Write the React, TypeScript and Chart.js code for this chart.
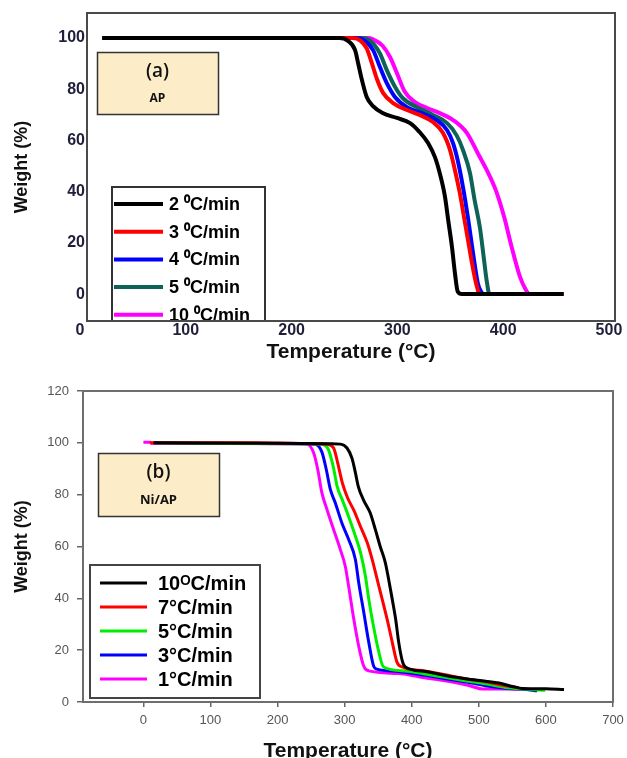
import React, { useEffect, useRef } from 'react';
import { Chart, registerables } from 'chart.js';

Chart.register(...registerables);
Chart.defaults.font.family = 'Arial, "Liberation Sans", Helvetica, sans-serif';

// ---------------- Panel (a): AP ----------------
const aLabels = ['2 ⁰C/min', '3 ⁰C/min', '4 ⁰C/min', '5 ⁰C/min', '10 ⁰C/min'];
const aColors = ['#000000', '#ff0000', '#0000ff', '#0d6358', '#ff00ff'];

const aT2 = [21, 245, 253, 260, 263, 266.5, 271, 277, 286, 299.6, 312, 321, 329, 335.5, 340, 345, 348, 351.6, 354.4, 357, 361, 457];
const aW2 = [100, 100, 99, 95.3, 90, 83.6, 77, 73.4, 70.7, 68.8, 66.8, 63.3, 59, 53.5, 47.3, 38, 29, 18.4, 8.2, 1, 0, 0];

const aT3 = [21, 258, 265, 271, 276, 281, 286.6, 296, 309, 321, 333.6, 343, 349.7, 354.4, 359, 363, 367, 371, 374.5, 378, 457];
const aW3 = [100, 100, 99, 96, 90, 83.6, 78.5, 74.6, 71.9, 70, 67.2, 63, 56.3, 48.4, 39.5, 30, 20.5, 11, 4, 0, 0];

const aT4 = [21, 262, 269, 277, 283.5, 290, 297.7, 309, 323, 337, 347, 352.6, 357, 362, 367, 371.5, 376, 379, 382, 457];
const aW4 = [100, 100, 99, 95.3, 88.7, 82.4, 77, 73, 70.7, 68, 64, 59, 52.3, 41.8, 29, 16, 4.3, 1, 0, 0];

const aT5 = [21, 266, 274, 283.5, 290, 297.7, 305, 318.5, 333.6, 347, 356, 362, 368.6, 373, 378, 382, 384.5, 387, 457];
const aW5 = [100, 100, 99, 94, 87.5, 81, 76.6, 73, 70, 66.8, 62, 56.3, 47.3, 36.7, 26, 13, 5, 0, 0];

const aT10 = [21, 272, 277, 286, 293, 299.6, 307, 316.6, 328, 340, 352.6, 365.8, 376, 385, 393, 401, 408, 416, 421, 425, 457];
const aW10 = [100, 100, 99.5, 97, 92.6, 86.3, 79, 75, 72.7, 70.7, 68, 62.9, 55, 48, 40.6, 30, 18.4, 6.6, 2, 0, 0];

const aXTicks = [0, 100, 200, 300, 400, 500];
const aYTicks = [0, 20, 40, 60, 80, 100];

// ---------------- Panel (b): Ni/AP ----------------
const bLabels = ['10ᴼC/min', '7°C/min', '5°C/min', '3°C/min', '1°C/min'];
const bColors = ['#000000', '#ff0000', '#00ee00', '#0000ff', '#ff00ff'];

const bT10 = [15, 200, 280, 293.6, 303.5, 311, 316, 320.5, 328, 338, 345.8, 353, 360.6, 365.6, 371, 376, 380.6, 386, 390.5, 420, 450, 480, 510, 530, 550, 565, 600, 627];
const bW10 = [100, 99.8, 99.6, 99.5, 98, 94, 88.5, 83, 78, 73, 66.5, 60, 53.8, 47.3, 39.6, 32, 23, 15.8, 13.5, 11.8, 10.2, 9, 8, 7.3, 6, 5.2, 5.1, 4.8];

const bT7 = [10, 170, 260, 273.7, 283.6, 289.6, 296.5, 304, 313.6, 323.6, 333.6, 341, 348.5, 356, 363.3, 371, 378, 386, 420, 450, 480, 510, 540, 560];
const bW7 = [100, 100, 99.6, 99.5, 98, 92.3, 84.6, 79, 74, 67.7, 61.5, 55, 47.3, 39.6, 32, 23, 15.4, 13.5, 12, 10.5, 9, 7.8, 6.3, 5.5];

const bT5 = [20, 250, 266, 276, 283, 289, 296.5, 306, 316, 323.6, 331, 336, 343, 351, 358, 390, 420, 450, 480, 510, 540, 570, 599];
const bW5 = [100, 99.6, 99.5, 97.3, 90.8, 83, 78, 71.5, 64, 57.7, 48.5, 39.6, 29.2, 19.2, 13.5, 12, 10.8, 9.5, 8.2, 7, 5.6, 5, 4.5];

const bT3 = [15, 240, 256, 266, 272.7, 278.7, 286, 296, 306, 316, 321, 328.5, 336, 343.3, 348, 380, 420, 450, 480, 510, 540, 565, 587];
const bW3 = [100, 99.6, 99.5, 96.5, 89.6, 82, 76.9, 69, 62.7, 55, 46, 34.6, 23, 13.8, 12.7, 11.8, 10.3, 9, 7.8, 6.3, 5.3, 5, 4.3];

const bT1 = [0, 10, 12, 230, 244, 254, 260, 266, 274, 283.6, 293.6, 301, 306, 313.6, 321, 328.5, 336, 380, 423, 442.6, 470, 490, 505, 540, 572];
const bW1 = [100.2, 100.2, 99.8, 99.6, 99.5, 96, 89.6, 80.8, 74, 66.5, 58.8, 52.3, 44.6, 32, 21.5, 13.8, 12, 11, 9.2, 8.5, 7.2, 6, 5, 5, 4.8];

const bXTicks = [0, 100, 200, 300, 400, 500, 600, 700];
const bYTicks = [0, 20, 40, 60, 80, 100, 120];

const toPts = (t: number[], w: number[]) => t.map((x, i) => ({ x, y: w[i] }));

const overlayPlugin = {
  id: 'overlay',
  afterDatasetsDraw(chart: any, _args: any, o: any) {
    const { ctx, chartArea: ca } = chart;
    ctx.save();
    // note box
    const n = o.note;
    const nx = ca.left + n.x, ny = ca.top + n.y;
    ctx.fillStyle = n.fill;
    ctx.fillRect(nx, ny, n.w, n.h);
    ctx.strokeStyle = n.stroke;
    ctx.lineWidth = n.lineWidth;
    ctx.strokeRect(nx + 0.5, ny + 0.5, n.w, n.h);
    ctx.fillStyle = '#111';
    ctx.textAlign = 'center';
    ctx.textBaseline = 'middle';
    ctx.font = n.titleFont;
    ctx.fillText(n.title, nx + n.w / 2, ca.top + n.titleY);
    ctx.font = n.subFont;
    ctx.fillText(n.sub, nx + n.w / 2, ca.top + n.subY);

    // legend box, clipped to the plot frame
    const L = o.legend;
    ctx.beginPath();
    ctx.rect(ca.left, ca.top, ca.right - ca.left, ca.bottom - ca.top);
    ctx.clip();
    const lx = ca.left + L.x, ly = ca.top + L.y;
    ctx.fillStyle = '#ffffff';
    ctx.fillRect(lx, ly, L.w, L.h);
    ctx.strokeStyle = L.stroke;
    ctx.lineWidth = L.lineWidth;
    ctx.strokeRect(lx, ly, L.w, L.h);
    ctx.textAlign = 'left';
    ctx.textBaseline = 'middle';
    ctx.font = L.font;
    chart.data.datasets.forEach((ds: any, i: number) => {
      const y = ca.top + L.rowY + i * L.rowGap;
      ctx.strokeStyle = ds.borderColor;
      ctx.lineWidth = L.sampleWidth;
      ctx.beginPath();
      ctx.moveTo(ca.left + L.lineX0, y);
      ctx.lineTo(ca.left + L.lineX1, y);
      ctx.stroke();
      ctx.fillStyle = '#000';
      ctx.fillText(ds.label, ca.left + L.textX, y + 1);
    });
    ctx.restore();
  },
  afterDraw(chart: any, _args: any, o: any) {
    const { ctx, chartArea: ca } = chart;
    ctx.save();
    ctx.strokeStyle = o.frameColor;
    ctx.lineWidth = o.frameWidth;
    ctx.strokeRect(ca.left, ca.top, ca.right - ca.left, ca.bottom - ca.top);
    ctx.restore();
  },
};

function makeDatasets(series: { x: number; y: number }[][], labels: string[], colors: string[], width: number) {
  return series.map((d, i) => ({
    label: labels[i],
    data: d,
    borderColor: colors[i],
    backgroundColor: colors[i],
    borderWidth: width,
    pointRadius: 0,
    fill: false,
    cubicInterpolationMode: 'monotone' as const,
  }));
}

const fitX = (h: number) => (s: any) => {
  s.height = h;
  s.paddingLeft = 0;
  s.paddingRight = 0;
};
const fitY = (w: number) => (s: any) => {
  s.width = w;
  s.paddingTop = 0;
  s.paddingBottom = 0;
};

export default function App() {
  const refA = useRef<HTMLCanvasElement>(null);
  const refB = useRef<HTMLCanvasElement>(null);

  useEffect(() => {
    const HA = 372;
    const HB = 378;
    const chartA = new Chart(refA.current!, {
      type: 'line',
      data: {
        datasets: makeDatasets(
          [toPts(aT2, aW2), toPts(aT3, aW3), toPts(aT4, aW4), toPts(aT5, aW5), toPts(aT10, aW10)],
          aLabels,
          aColors,
          4
        ),
      },
      options: {
        responsive: false,
        animation: false,
        maintainAspectRatio: false,
        layout: { padding: { left: 0, right: 12, top: 13, bottom: 0 } },
        plugins: {
          legend: { display: false },
          tooltip: { enabled: false },
          overlay: {
            frameColor: '#4a4a4a',
            frameWidth: 2,
            note: {
              x: 10, y: 39, w: 121, h: 62, fill: '#fcecc8', stroke: '#333', lineWidth: 1.5,
              title: '(a)', titleFont: '600 19px "Open Sans"', titleY: 59,
              sub: 'AP', subFont: 'bold 12px "Open Sans"', subY: 86,
            },
            legend: {
              x: 25, y: 174, w: 153, h: 160, stroke: '#333', lineWidth: 2,
              rowY: 191, rowGap: 27.7, lineX0: 27, lineX1: 76, textX: 82,
              sampleWidth: 4, font: 'bold 18px Arial, "Liberation Sans", sans-serif',
            },
          },
        } as any,
        scales: {
          x: {
            type: 'linear',
            min: 6.6,
            max: 505.7,
            afterBuildTicks: (s: any) => { s.ticks = aXTicks.map((v) => ({ value: v })); },
            afterFit: fitX(HA - 321),
            grid: { display: false, drawTicks: false },
            border: { display: false },
            ticks: { autoSkip: false, maxRotation: 0, padding: 0, color: '#1f1f3a', font: { size: 16, weight: 'bold' } },
            title: { display: true, text: 'Temperature (°C)', color: '#111', font: { size: 21, weight: 'bold' }, padding: { top: 0, bottom: 7 } },
          },
          y: {
            type: 'linear',
            min: -10.5,
            max: 109.8,
            afterBuildTicks: (s: any) => { s.ticks = aYTicks.map((v) => ({ value: v })); },
            afterFit: fitY(87),
            grid: { display: false, drawTicks: false },
            border: { display: false },
            ticks: { autoSkip: false, padding: 2, color: '#1f1f3a', font: { size: 16, weight: 'bold' } },
            title: { display: true, text: 'Weight (%)', color: '#111', font: { size: 18, weight: 'bold' }, padding: { top: 11, bottom: 0 } },
          },
        },
      },
      plugins: [overlayPlugin],
    });

    const chartB = new Chart(refB.current!, {
      type: 'line',
      data: {
        datasets: makeDatasets(
          [toPts(bT10, bW10), toPts(bT7, bW7), toPts(bT5, bW5), toPts(bT3, bW3), toPts(bT1, bW1)],
          bLabels,
          bColors,
          3
        ),
      },
      options: {
        responsive: false,
        animation: false,
        maintainAspectRatio: false,
        layout: { padding: { left: 0, right: 14, top: 11, bottom: 0 } },
        plugins: {
          legend: { display: false },
          tooltip: { enabled: false },
          overlay: {
            frameColor: '#6e6e6e',
            frameWidth: 2,
            note: {
              x: 15, y: 62, w: 121, h: 63, fill: '#fcecc8', stroke: '#333', lineWidth: 1.5,
              title: '(b)', titleFont: '600 19px "Open Sans"', titleY: 82,
              sub: 'Ni/AP', subFont: 'bold 13px "Open Sans"', subY: 109,
            },
            legend: {
              x: 7, y: 174, w: 170, h: 133, stroke: '#444', lineWidth: 2,
              rowY: 192, rowGap: 24, lineX0: 17, lineX1: 64, textX: 75,
              sampleWidth: 3, font: 'bold 20px Arial, "Liberation Sans", sans-serif',
            },
          },
        } as any,
        scales: {
          x: {
            type: 'linear',
            min: -90,
            max: 700,
            afterBuildTicks: (s: any) => { s.ticks = bXTicks.map((v) => ({ value: v })); },
            afterFit: fitX(HB - 322),
            grid: { display: true, drawOnChartArea: false, drawTicks: true, tickLength: 5, color: '#666', lineWidth: 1.5 },
            border: { display: false },
            ticks: { autoSkip: false, maxRotation: 0, padding: 6, color: '#555', font: { size: 13 } },
            title: { display: true, text: 'Temperature (°C)', color: '#111', font: { size: 21, weight: 'bold' }, padding: { top: 0, bottom: -6 } },
          },
          y: {
            type: 'linear',
            min: 0,
            max: 120,
            afterBuildTicks: (s: any) => { s.ticks = bYTicks.map((v) => ({ value: v })); },
            afterFit: fitY(83),
            grid: { display: true, drawOnChartArea: false, drawTicks: true, tickLength: 6, color: '#666', lineWidth: 1.5 },
            border: { display: false },
            ticks: { autoSkip: false, padding: 8, color: '#555', font: { size: 13 } },
            title: { display: true, text: 'Weight (%)', color: '#111', font: { size: 18, weight: 'bold' }, padding: { top: 11, bottom: 0 } },
          },
        },
      },
      plugins: [overlayPlugin],
    });

    return () => {
      chartA.destroy();
      chartB.destroy();
    };
  }, []);

  return (
    <div style={{ position: 'absolute', left: 0, top: 0, width: 627, height: 758, background: '#fff', overflow: 'hidden' }}>
      <canvas ref={refA} width={627} height={372} style={{ position: 'absolute', left: 0, top: 0, display: 'block' }} />
      <canvas ref={refB} width={627} height={378} style={{ position: 'absolute', left: 0, top: 380, display: 'block' }} />
    </div>
  );
}
